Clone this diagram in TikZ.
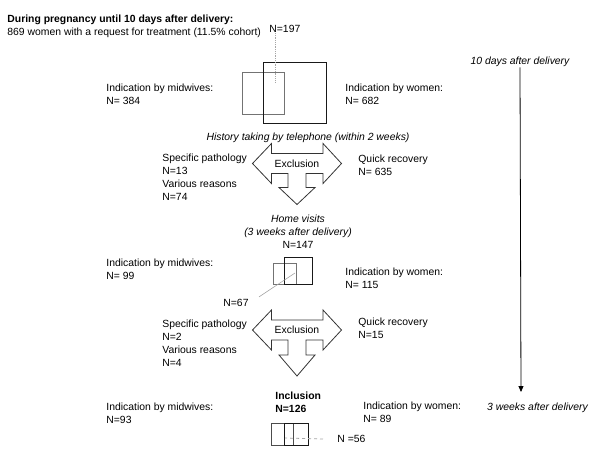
\documentclass[tikz,border=0pt]{standalone}
\usepackage{fontspec}
\setmainfont{Liberation Sans}
\usetikzlibrary{
    positioning,
    arrows.meta,
    calc
}

% three-way exclusion arrow: centre x, centre y, stem end, tip
\newcommand{\exclarrow}[4]{%
    \begin{scope}[shift={(#1,#2)}]
        \draw[black!80] (-44.5,0) -- (-25.5,-20) -- (-25.5,-10) -- (26,-10) -- (26,-20)
            -- (44.5,0) -- (26,20) -- (26,10) -- (9,10) -- (9,#3) -- (18,#3) -- (0,#4)
            -- (-18,#3) -- (-9,#3) -- (-9,10) -- (-25.5,10) -- (-25.5,20) -- cycle;
    \end{scope}%
}

\begin{document}
\begin{tikzpicture}[
            x=1pt, y=-1pt,
            font=\fontsize{10.4}{13}\selectfont,
            >={Triangle[length=6pt,width=5pt]},
            line width=0.8pt,
            lbl/.style={anchor=west, align=left, inner sep=0pt},
            stage/.style={align=center, inner sep=0pt, font=\fontsize{10.4}{13}\selectfont\itshape},
            grp/.style={draw=black!90},
            subgrp/.style={draw=black!55},
        ]
        \useasboundingbox (0,0) rectangle (600,456);

        % Header
        \node[lbl] (head) at (7,26.5) {\textbf{During pregnancy until 10 days after delivery:}\\869 women with a request for treatment (11.5\% cohort)};

        % Time axis
        \node[stage] (t10d) at (520,62) {10 days after delivery};
        \node[stage] (t3w) at (537.5,408) {3 weeks after delivery};
        \coordinate (tend) at (521,392);
        \draw[->, black] (t10d.south) -- (tend);

        % Request for treatment
        \draw[subgrp] (242,72) rectangle (284,114);
        \draw[grp] (263,62) rectangle (326,123);
        \node[lbl] (n197) at (269,29) {N=197};
        \coordinate (d197) at (275,82);
        \draw[gray!70, densely dotted] (d197 |- n197.south) -- (d197);
        \node[lbl] (mid1) at (106,94.5) {Indication by midwives:\\N= 384};
        \node[lbl] (wom1) at (345,94.5) {Indication by women:\\N= 682};

        % First exclusion
        \node[stage] (hist) at (308,138) {History taking by telephone (within 2 weeks)};
        \exclarrow{297}{163.5}{24}{41}
        \node[inner sep=0pt] (excl1) at (297,164) {Exclusion};
        \node[lbl] (path1) at (162,177.5) {Specific pathology\\N=13\\Various reasons\\N=74};
        \node[lbl] (quick1) at (358,165.5) {Quick recovery\\N= 635};

        % Home visits
        \node[align=center, inner sep=0pt] (home) at (298,232) {\textit{Home visits}\\\textit{(3 weeks after delivery)}\\N=147};
        \draw[subgrp] (273,263) rectangle (296,284);
        \draw[grp] (284,257) rectangle (312,284);
        \node[lbl] (n67) at (223,303) {N=67};
        \coordinate (d67) at (295,273);
        \draw[gray!70, line width=0.6pt] (n67.north east) ++(10,-2) -- (d67);
        \node[lbl] (mid2) at (106,269) {Indication by midwives:\\N= 99};
        \node[lbl] (wom2) at (345,278.5) {Indication by women:\\N= 115};

        % Second exclusion
        \exclarrow{297}{330}{25}{46}
        \node[inner sep=0pt] (excl2) at (297,330) {Exclusion};
        \node[lbl] (path2) at (162,343) {Specific pathology\\N=2\\Various reasons\\N=4};
        \node[lbl] (quick2) at (358,328.5) {Quick recovery\\N=15};

        % Inclusion
        \node[lbl, font=\fontsize{10.4}{13}\selectfont\bfseries] (incl) at (275,402) {Inclusion\\N=126};
        \node[lbl] (mid3) at (106,413.5) {Indication by midwives:\\N=93};
        \node[lbl] (wom3) at (363,412.5) {Indication by women:\\N= 89};
        \draw[draw=black!70] (271,423) rectangle (293,445);
        \draw[grp] (284,423) rectangle (308,445);
        \node[lbl] (n56) at (337,439) {N =56};
        \coordinate (d56) at (285,438);
        \draw[gray!70, dashed] (n56.west) ++(-14,0) -- (d56);
\end{tikzpicture}
\end{document}
